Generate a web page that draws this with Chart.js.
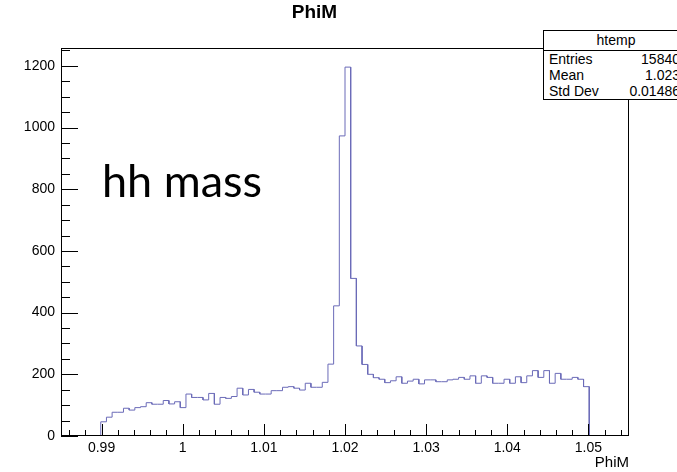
<!DOCTYPE html>
<html><head><meta charset="utf-8">
<script src="https://cdn.jsdelivr.net/npm/chart.js@4"></script>
<style>
html,body{margin:0;padding:0;background:#fff;overflow:hidden;}
#wrap{position:relative;width:677px;height:472px;overflow:hidden;background:#fff;}
#c{position:absolute;left:0;top:0;}
#stats{position:absolute;left:543px;top:30px;width:146px;border:1px solid #000;background:#fff;font-family:"Liberation Sans",Arial,sans-serif;font-size:14px;color:#000;box-sizing:border-box;}
#stats .hd{height:19px;line-height:19px;text-align:center;border-bottom:1px solid #000;}
#stats .row{height:16px;line-height:16px;position:relative;}
#stats .row .l{position:absolute;left:5px;}
#stats .row .v{position:absolute;right:8px;}
#note{position:absolute;left:102px;top:158px;font-family:Lato,"Open Sans",sans-serif;font-size:45px;line-height:45px;color:#000;white-space:nowrap;}
</style></head>
<body>
<div id="wrap">
<canvas id="c" width="677" height="472"></canvas>
<div id="stats"></div>
<div id="note"></div>
</div>
<script>
// ---- data ----
const chartTitle = 'PhiM';
const xAxisTitle = 'PhiM';
const noteText = 'hh mass';
const histName = 'htemp';
const xMin = 0.985;
const xMax = 1.055;
const binWidth = 0.0007;
const counts = [
  0, 0, 0, 0, 0, 0, 0, 46, 61, 77,
  77, 90, 84, 92, 95, 108, 103, 103, 115, 104,
  111, 92, 136, 125, 125, 117, 138, 103, 125, 122,
  128, 155, 133, 151, 142, 136, 136, 147, 147, 158,
  160, 155, 149, 171, 158, 158, 174, 233, 422, 973,
  1196, 511, 292, 232, 200, 189, 184, 173, 179, 192,
  171, 178, 184, 169, 182, 182, 176, 176, 182, 184,
  190, 184, 195, 171, 195, 190, 171, 171, 184, 171,
  192, 173, 195, 212, 190, 212, 171, 203, 184, 184,
  190, 184, 160, 0, 0, 0, 0, 0, 0, 0
];
const yMax = 1258;
const xTicks = [0.99, 1.00, 1.01, 1.02, 1.03, 1.04, 1.05];
const xTickLabels = ['0.99', '1', '1.01', '1.02', '1.03', '1.04', '1.05'];
const yTicks = [0, 200, 400, 600, 800, 1000, 1200];
const yTickLabels = ['0', '200', '400', '600', '800', '1000', '1200'];
const xMinorStep = 0.002;
const yMinorStep = 50;
const statsLabels = ['Entries', 'Mean', 'Std Dev'];
const statsValues = ['15840', '1.023', '0.01486'];

// ---- build ----
const pts = [];
counts.forEach((c, i) => {
  const lo = parseFloat((xMin + i * binWidth).toFixed(6));
  const hi = parseFloat((xMin + (i + 1) * binWidth).toFixed(6));
  pts.push({x: lo, y: c});
  pts.push({x: hi, y: c});
});

document.getElementById('note').textContent = noteText;
const st = document.getElementById('stats');
let html = '<div class="hd">' + histName + '</div>';
statsLabels.forEach((l, i) => {
  html += '<div class="row"><span class="l">' + l + '</span><span class="v">' + statsValues[i] + '</span></div>';
});
st.innerHTML = html;

const FONT = '"Liberation Sans", Arial, Helvetica, sans-serif';

const frameTicks = {
  id: 'frameTicks',
  afterDatasetsDraw(chart) {
    const {ctx, chartArea: a, scales: {x, y}} = chart;
    const L = Math.round(a.left), R = Math.round(a.right), T = Math.round(a.top), B = Math.round(a.bottom);
    ctx.save();
    ctx.strokeStyle = '#000';
    ctx.lineWidth = 1;
    ctx.strokeRect(L + 0.5, T + 0.5, R - L - 1, B - T - 1);
    ctx.beginPath();
    yTicks.forEach(v => {
      const py = Math.round(y.getPixelForValue(v)) + 0.5;
      ctx.moveTo(L, py); ctx.lineTo(L + 17, py);
    });
    for (let v = yMinorStep; v < yMax; v += yMinorStep) {
      if (v % 200 === 0) continue;
      const py = Math.round(y.getPixelForValue(v)) + 0.5;
      ctx.moveTo(L, py); ctx.lineTo(L + 9, py);
    }
    xTicks.forEach(v => {
      const px = Math.round(x.getPixelForValue(v)) + 0.5;
      ctx.moveTo(px, B); ctx.lineTo(px, B - 12);
    });
    for (let k = 0; ; k++) {
      const v = parseFloat((0.986 + k * xMinorStep).toFixed(6));
      if (v > xMax) break;
      if (xTicks.some(t => Math.abs(t - v) < 1e-9)) continue;
      const px = Math.round(x.getPixelForValue(v)) + 0.5;
      ctx.moveTo(px, B); ctx.lineTo(px, B - 6);
    }
    ctx.stroke();
    ctx.restore();
  }
};

new Chart(document.getElementById('c'), {
  type: 'line',
  data: {
    datasets: [{
      data: pts,
      borderColor: '#6b6bb8',
      borderWidth: 1,
      pointRadius: 0,
      tension: 0,
      fill: false
    }]
  },
  options: {
    responsive: false,
    devicePixelRatio: 1,
    animation: false,
    layout: {padding: {left: 0, right: 48, top: 0, bottom: 0}},
    plugins: {
      legend: {display: false},
      tooltip: {enabled: false},
      title: {
        display: true,
        text: chartTitle,
        color: '#000',
        font: {family: FONT, size: 19, weight: 'bold', lineHeight: 1.2},
        padding: {top: 1, bottom: 24.2}
      }
    },
    scales: {
      x: {
        type: 'linear',
        min: xMin,
        max: xMax,
        grid: {display: false, drawTicks: false},
        border: {display: false},
        afterBuildTicks: s => { s.ticks = xTicks.map(v => ({value: v})); },
        afterFit: s => { s.height = 36; },
        ticks: {
          color: '#000',
          font: {family: FONT, size: 14},
          padding: 4,
          autoSkip: false,
          maxRotation: 0,
          callback: (v, i) => xTickLabels[i]
        },
        title: {
          display: true,
          text: xAxisTitle,
          align: 'end',
          color: '#000',
          font: {family: FONT, size: 15, lineHeight: 1.2},
          padding: {top: 0, bottom: 0}
        }
      },
      y: {
        type: 'linear',
        min: 0,
        max: yMax,
        grid: {display: false, drawTicks: false},
        border: {display: false},
        afterBuildTicks: s => { s.ticks = yTicks.map(v => ({value: v})); },
        afterFit: s => { s.width = 61; },
        ticks: {
          color: '#000',
          font: {family: FONT, size: 14},
          padding: 6,
          autoSkip: false,
          callback: (v, i) => yTickLabels[i]
        }
      }
    }
  },
  plugins: [frameTicks]
});
</script>
</body></html>
